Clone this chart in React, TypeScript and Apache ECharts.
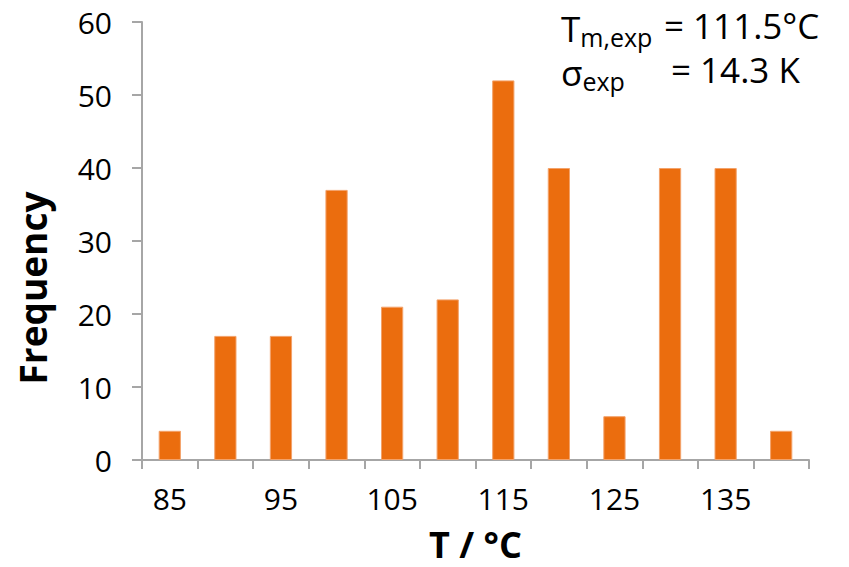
import React, { useEffect, useRef } from "react";
import * as echarts from "echarts";

const categories = ["85", "90", "95", "100", "105", "110", "115", "120", "125", "130", "135", "140"];
const frequencies = [4, 17, 17, 37, 21, 22, 52, 40, 6, 40, 40, 4];
const yTicks = { min: 0, max: 60, interval: 10 };
const xAxisTitle = "T / °C";
const yAxisTitle = "Frequency";
const tmLabel = "= 111.5°C";
const sigmaLabel = "= 14.3 K";

const FONT = "'Open Sans', 'Noto Sans', sans-serif";
const AXIS_COLOR = "#A6A6A6";
const BAR_COLOR = "#EB6D0E";

export default function App() {
  const ref = useRef<HTMLDivElement>(null);
  useEffect(() => {
    document.body.style.margin = "0";
    if (!ref.current) return;
    const chart = echarts.init(ref.current, undefined, { renderer: "svg" });
    chart.setOption({
      animation: false,
      grid: { left: 142, right: 40, top: 22, bottom: 105 },
      xAxis: {
        type: "category",
        data: categories,
        boundaryGap: true,
        name: xAxisTitle,
        nameLocation: "middle",
        nameGap: 66,
        nameTextStyle: { fontFamily: FONT, fontSize: 36, fontWeight: "bold", color: "#000" },
        axisLine: { lineStyle: { color: AXIS_COLOR, width: 2 } },
        axisTick: { show: true, interval: 0, alignWithLabel: false, length: 9, lineStyle: { color: AXIS_COLOR, width: 2 } },
        axisLabel: { interval: 1, margin: 23, fontFamily: FONT, fontSize: 30, color: "#000" },
        splitLine: { show: false },
      },
      yAxis: {
        type: "value",
        min: yTicks.min,
        max: yTicks.max,
        interval: yTicks.interval,
        axisLine: { show: true, lineStyle: { color: AXIS_COLOR, width: 2 } },
        axisTick: { show: true, length: 10, lineStyle: { color: AXIS_COLOR, width: 2 } },
        axisLabel: { margin: 30, fontFamily: FONT, fontSize: 30, color: "#000" },
        splitLine: { show: false },
      },
      series: [
        {
          type: "bar",
          data: frequencies,
          barWidth: "40%",
          itemStyle: { color: BAR_COLOR, borderColor: "#F3A26A", borderWidth: 1 },
        },
      ],
      graphic: [
        {
          type: "text",
          x: 32,
          y: 288,
          rotation: Math.PI / 2,
          style: {
            text: yAxisTitle,
            font: `bold 37px ${FONT}`,
            fill: "#000",
            textAlign: "center",
            textVerticalAlign: "middle",
          },
        },
        {
          type: "text",
          x: 561,
          y: 8,
          style: {
            text: "{a|T}{b|m,exp}",
            rich: {
              a: { fontFamily: FONT, fontSize: 35, fill: "#000" },
              b: { fontFamily: FONT, fontSize: 25, fill: "#000", padding: [16, 0, 0, 0] },
            },
          },
        },
        {
          type: "text",
          x: 664,
          y: 8,
          style: { text: tmLabel, font: `35px ${FONT}`, fill: "#000" },
        },
        {
          type: "text",
          x: 561,
          y: 52,
          style: {
            text: "{a|σ}{b|exp}",
            rich: {
              a: { fontFamily: FONT, fontSize: 35, fill: "#000" },
              b: { fontFamily: FONT, fontSize: 25, fill: "#000", padding: [16, 0, 0, 0] },
            },
          },
        },
        {
          type: "text",
          x: 671,
          y: 52,
          style: { text: sigmaLabel, font: `35px ${FONT}`, fill: "#000" },
        },
      ],
    });
    return () => chart.dispose();
  }, []);
  return <div ref={ref} style={{ width: 849, height: 567 }} />;
}
